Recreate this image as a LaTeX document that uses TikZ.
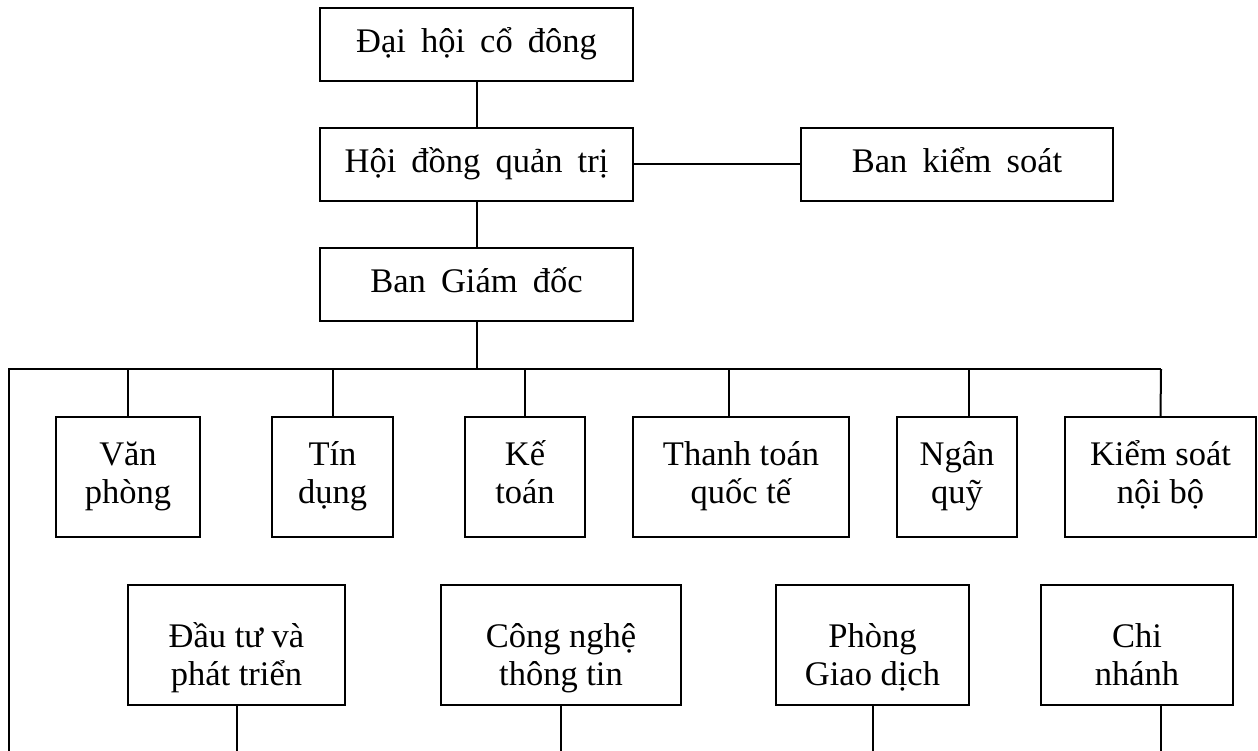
\documentclass[tikz,border=0pt]{standalone}
\usepackage{fontspec}
\setmainfont{Liberation Serif}
\newfontfamily\widespfont{Liberation Serif}[WordSpace=1.75]
\newcommand\myboxfont{\fontsize{34.5}{38}\selectfont\lineskiplimit=-50pt\relax}
\newcommand\lone[1]{\rule{0pt}{30pt}#1\rule[-13pt]{0pt}{13pt}}
\newcommand\ltwoa[2]{\rule{0pt}{32pt}#1\\#2\rule[-16.6pt]{0pt}{16.6pt}}
\newcommand\ltwob[2]{\rule{0pt}{52pt}#1\\#2\rule[-9.4pt]{0pt}{9.4pt}}
\begin{document}
\begin{tikzpicture}[x=1pt,y=-1pt,
  box/.style={draw,line width=2pt,inner sep=0pt,align=center,font=\myboxfont},
  single/.style={box,minimum height=73,font=\widespfont\myboxfont},
  rowa/.style={box,minimum height=120},
  rowb/.style={box,minimum height=120},
  ln/.style={line width=2pt}]
\useasboundingbox (0,0) rectangle (1258,751);
% top chain
\node[single,minimum width=313] (dh) at (476.5,44.5) {\lone{Đại hội cổ đông}};
\node[single,minimum width=313] (hd) at (476.5,164.5) {\lone{Hội đồng quản trị}};
\node[single,minimum width=312] (bks) at (957,164.5) {\lone{Ban kiểm soát}};
\node[single,minimum width=313] (bgd) at (476.5,284.5) {\lone{Ban Giám đốc}};
% row 1
\node[rowa,minimum width=144] (vp) at (128,477) {\ltwoa{Văn}{phòng}};
\node[rowa,minimum width=121] (td) at (332.5,477) {\ltwoa{Tín}{dụng}};
\node[rowa,minimum width=120] (kt) at (525,477) {\ltwoa{Kế}{toán}};
\node[rowa,minimum width=216] (tt) at (741,477) {\ltwoa{Thanh toán}{quốc tế}};
\node[rowa,minimum width=120] (nq) at (957,477) {\ltwoa{Ngân}{quỹ}};
\node[rowa,minimum width=191] (ks) at (1160.5,477) {\ltwoa{Kiểm soát}{nội bộ}};
% row 2
\node[rowb,minimum width=217] (dt) at (236.5,645) {\ltwob{Đầu tư và}{phát triển}};
\node[rowb,minimum width=240] (cn) at (561,645) {\ltwob{Công nghệ}{thông tin}};
\node[rowb,minimum width=193] (pgd) at (872.5,645) {\ltwob{Phòng}{Giao dịch}};
\node[rowb,minimum width=192] (chn) at (1137,645) {\ltwob{Chi}{nhánh}};
% bus
\coordinate (busL) at (9,369);
\coordinate (busR) at (1161,369);
\coordinate (bot) at (0,751);
\draw[ln] (dh) -- (hd);
\draw[ln] (hd) -- (bgd);
\draw[ln] (hd.east) -- (bks.west);
\draw[ln] (bgd.south) -- (bgd.south |- busL);
\draw[ln,line join=miter] (busR) -- (busL) -- (busL |- bot);
\draw[ln] (vp.north) -- (vp.north |- busL);
\draw[ln] (td.north) -- (td.north |- busL);
\draw[ln] (kt.north) -- (kt.north |- busL);
\draw[ln] ([xshift=-12pt]tt.north) -- ([xshift=-12pt]tt.north |- busL);
\draw[ln] ([xshift=12pt]nq.north) -- ([xshift=12pt]nq.north |- busL);
\draw[ln] (ks.north) -- (busR);
\draw[ln] (dt.south) -- (dt.south |- bot);
\draw[ln] (cn.south) -- (cn.south |- bot);
\draw[ln] (pgd.south) -- (pgd.south |- bot);
\draw[ln] ([xshift=24pt]chn.south) -- ([xshift=24pt]chn.south |- bot);
\end{tikzpicture}
\end{document}
